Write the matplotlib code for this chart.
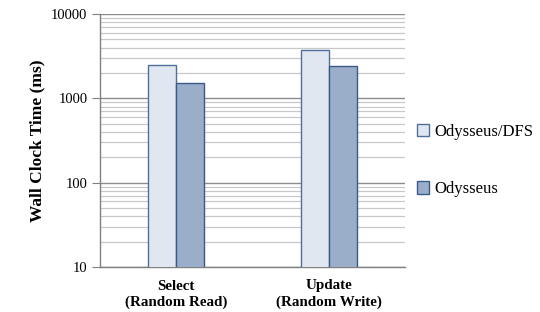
import numpy as np
import matplotlib
matplotlib.use("Agg")
import matplotlib.pyplot as plt
from matplotlib.ticker import LogLocator, NullFormatter

plt.rcParams['font.family'] = ['Liberation Serif', 'DejaVu Serif']

categories = ["Select\n(Random Read)", "Update\n(Random Write)"]
series = ["Odysseus/DFS", "Odysseus"]
dfs_times = [2500, 3700]
ody_times = [1500, 2400]

fig = plt.figure(figsize=(5.4, 3.12), dpi=100)
ax = fig.add_axes([100/540, 1 - 267/312, 305/540, 253/312])

x = np.arange(len(categories))
w = 0.184
ax.bar(x - w/2, dfs_times, w, color="#e1e7f0", edgecolor="#4f6e9b", linewidth=1.0,
       label=series[0], zorder=3)
ax.bar(x + w/2, ody_times, w, color="#9aadc9", edgecolor="#3a5a88", linewidth=1.0,
       label=series[1], zorder=3)

ax.set_yscale("log")
ax.set_ylim(10, 10000)
ax.set_xlim(-0.5, 1.5)
ax.yaxis.set_minor_locator(LogLocator(base=10, subs=np.arange(2, 10), numticks=10))
ax.yaxis.set_minor_formatter(NullFormatter())
ax.set_yticks([10, 100, 1000, 10000])
ax.set_yticklabels(["10", "100", "1000", "10000"])
ax.grid(True, which="major", axis="y", color="#8c8c8c", linewidth=1.0, zorder=0)
ax.grid(True, which="minor", axis="y", color="#c8c8c8", linewidth=0.9, zorder=0)

for s in ["top", "right"]:
    ax.spines[s].set_visible(False)
for s in ["left", "bottom"]:
    ax.spines[s].set_color("#808080")
    ax.spines[s].set_linewidth(1.0)

ax.tick_params(axis="y", which="major", length=6, color="#808080", labelsize=10.5, pad=3)
ax.tick_params(axis="y", which="minor", length=0)
ax.tick_params(axis="x", length=0, pad=9)
ax.set_xticks(x)
ax.set_xticklabels(categories, fontsize=10.8, fontweight="bold", linespacing=1.25)

ax.set_ylabel("Wall Clock Time (ms)", fontsize=12.5, fontweight="bold", labelpad=4)

leg = fig.legend(loc="upper left", bbox_to_anchor=(410/540, 1 - 117/312), frameon=False,
                 fontsize=12, handlelength=0.75, handleheight=0.75, handletextpad=0.3,
                 labelspacing=2.5, borderaxespad=0)

fig.savefig("out.png", dpi=100)
